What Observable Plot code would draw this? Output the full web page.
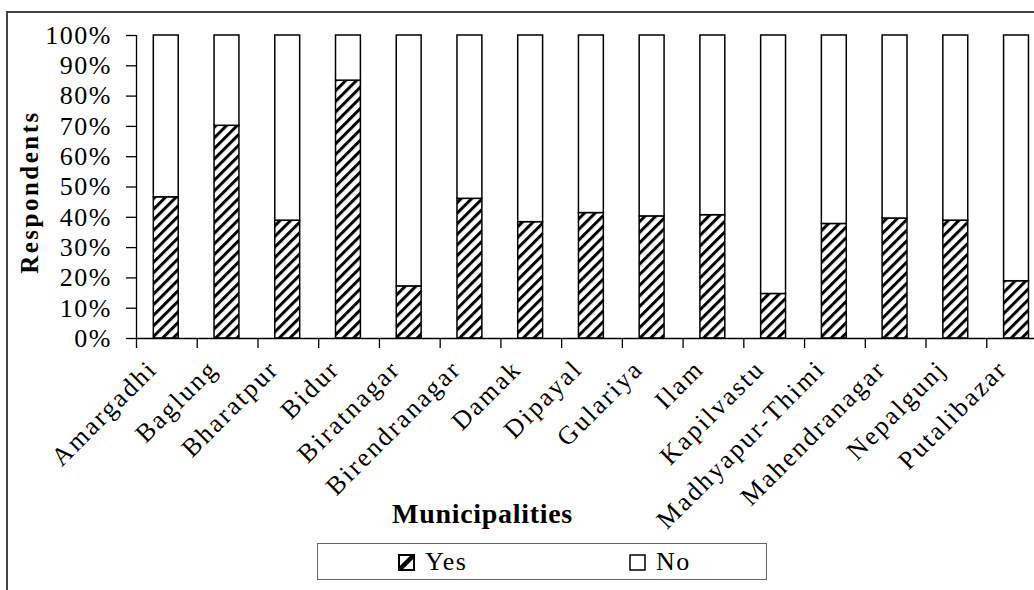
<!DOCTYPE html>
<html>
<head>
<meta charset="utf-8">
<script src="https://cdn.jsdelivr.net/npm/d3@7"></script>
<script src="https://cdn.jsdelivr.net/npm/@observablehq/plot@0.6"></script>
<style>
  html, body { margin: 0; padding: 0; background: #fff; overflow: hidden; }
  body { width: 1034px; height: 590px; position: relative; font-family: "Liberation Serif", "Times New Roman", serif; }
  #frame { position: absolute; left: 6px; top: 11px; width: 1100px; height: 700px;
           border-left: 2.5px solid #444; border-top: 2px solid #444; box-sizing: border-box; }
  #chart { position: absolute; left: 0; top: 0; }
  #chart svg text { letter-spacing: 1.5px; }
  #chart svg .x-labels text { letter-spacing: 2.3px; }
  #chart svg .axis-title text { letter-spacing: 0.7px; }
  #chart svg .y-title text { letter-spacing: 2.5px; }
  #legend { position: absolute; left: 317px; top: 543px; width: 450px; height: 37px;
            border: 1.5px solid #666; box-sizing: border-box; font-size: 26px; letter-spacing: 1.5px; }
  .item { position: absolute; top: 3px; display: flex; align-items: center; height: 30px; }
  .item svg { margin-right: 10px; }
</style>
</head>
<body>
<div id="frame"></div>
<div id="chart"></div>
<div id="legend">
  <div class="item" style="left:80px">
    <svg width="17" height="17" viewBox="0 0 17 17">
      <rect x="1" y="1" width="15" height="15" fill="#fff" stroke="#000" stroke-width="2"></rect>
      <line x1="1" y1="16" x2="16" y2="1" stroke="#000" stroke-width="4.5"></line>
    </svg><span>Yes</span>
  </div>
  <div class="item" style="left:311px">
    <svg width="17" height="17" viewBox="0 0 17 17">
      <rect x="1" y="1" width="15" height="15" fill="#fff" stroke="#000" stroke-width="1.5"></rect>
    </svg><span>No</span>
  </div>
</div>
<script>
// Share of respondents answering "Yes" in each municipality (percent); "No" is the remainder.
const municipalities = [
  "Amargadhi", "Baglung", "Bharatpur", "Bidur", "Biratnagar", "Birendranagar",
  "Damak", "Dipayal", "Gulariya", "Ilam", "Kapilvastu", "Madhyapur-Thimi",
  "Mahendranagar", "Nepalgunj", "Putalibazar"
];
const yesShare = [46.6, 70.2, 38.9, 85.1, 17.2, 46.1, 38.4, 41.4, 40.3, 40.7, 14.7, 37.8, 39.6, 38.9, 18.9];
const percentTicks = [0, 10, 20, 30, 40, 50, 60, 70, 80, 90, 100];
const xTitle = "Municipalities";
const yTitle = "Respondents";

const rows = municipalities.map((name, i) => ({name, i, yes: yesShare[i], no: 100 - yesShare[i]}));
const boundaries = d3.range(municipalities.length + 1);

const H = 540;
const chart = Plot.plot({
  width: 1034,
  height: H,
  marginLeft: 136,
  marginTop: 35,
  marginBottom: H - 338,
  marginRight: 0,
  x: {domain: [0, municipalities.length], range: [136, 1047]},
  y: {domain: [0, 100], range: [338, 35]},
  style: {fontFamily: "'Liberation Serif', 'Times New Roman', serif", fontSize: "26px", background: "transparent", color: "#000", overflow: "visible"},
  marks: [
    // hatched "Yes" segment
    Plot.rectY(rows, {x1: d => d.i + 0.285, x2: d => d.i + 0.695, y1: 0, y2: "yes",
      fill: "url(#hatch)", stroke: "#000", strokeWidth: 1.5}),
    // plain "No" segment stacked on top
    Plot.rectY(rows, {x1: d => d.i + 0.285, x2: d => d.i + 0.695, y1: "yes", y2: 100,
      fill: "#fff", stroke: "#000", strokeWidth: 1.5}),
    Plot.axisY(percentTicks, {tickSize: 10, tickPadding: 14.5, tickFormat: d => `${d}%`, label: null, strokeWidth: 1.3}),
    Plot.axisX(boundaries, {tickSize: 10, tickFormat: () => "", label: null, strokeWidth: 1.3}),
    Plot.ruleX([0], {y1: 0, y2: 100, strokeWidth: 1.3}),
    Plot.ruleY([0], {x1: 0, x2: municipalities.length, strokeWidth: 1.3}),
    Plot.text(rows, {x: d => d.i + 0.5, y: 0, text: "name", rotate: -45, textAnchor: "end", dx: -14, dy: 26, className: "x-labels"}),
    Plot.text([xTitle], {frameAnchor: "bottom", text: d => d, textAnchor: "middle", dx: -103, dy: 184, fontSize: 28, fontWeight: "bold", className: "axis-title"}),
    Plot.text([yTitle], {frameAnchor: "left", text: d => d, textAnchor: "middle", rotate: -90, dx: -107, dy: 5, fontSize: 25, fontWeight: "bold", className: "y-title"})
  ]
});

// diagonal hatch used by the "Yes" segments
const defs = d3.select(chart).insert("defs", ":first-child");
const pat = defs.append("pattern")
  .attr("id", "hatch")
  .attr("patternUnits", "userSpaceOnUse")
  .attr("width", 7.5).attr("height", 7.5)
  .attr("patternTransform", "rotate(45)");
pat.append("rect").attr("width", 7.5).attr("height", 7.5).attr("fill", "#fff");
pat.append("rect").attr("width", 3).attr("height", 7.5).attr("fill", "#000");

document.getElementById("chart").append(chart);
</script>
</body>
</html>
